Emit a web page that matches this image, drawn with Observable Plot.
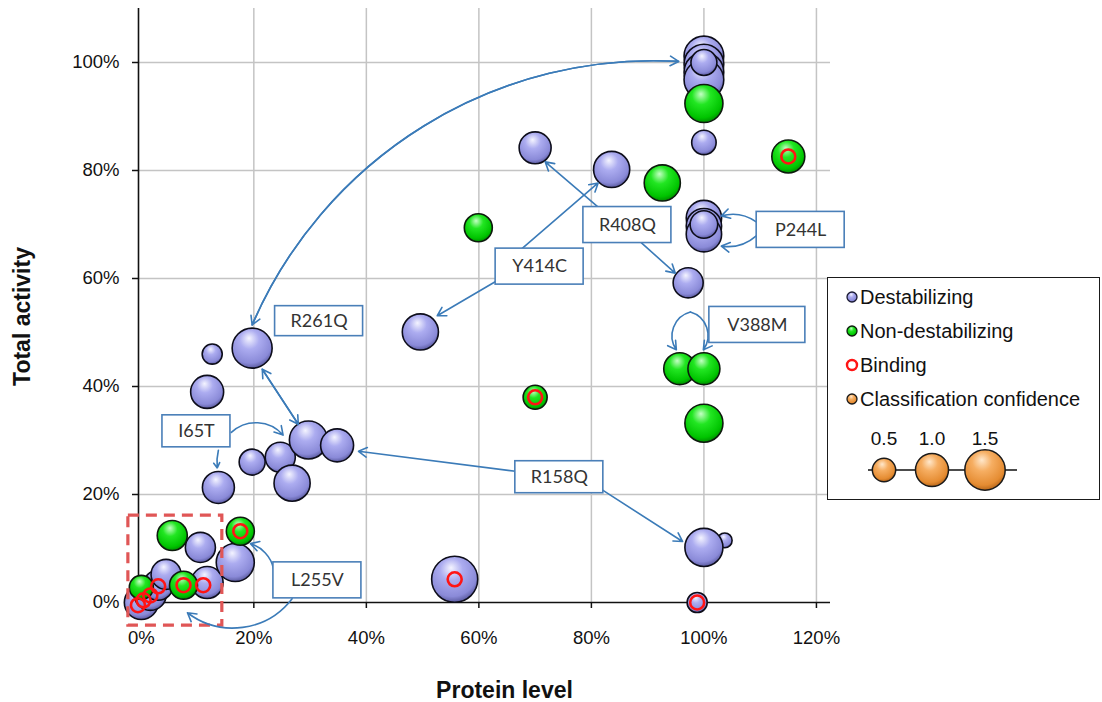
<!DOCTYPE html>
<html>
<head>
<meta charset="utf-8">
<script src="https://cdn.jsdelivr.net/npm/d3@7"></script>
<script src="https://cdn.jsdelivr.net/npm/@observablehq/plot@0.6"></script>
<style>
  html, body { margin: 0; padding: 0; background: #fff; }
  #chart { position: relative; width: 1102px; height: 702px; }
  #legend {
    position: absolute; left: 827px; top: 277px; width: 273px; height: 223px;
    border: 1.5px solid #1a1a1a; background: #fff; box-sizing: border-box;
  }
</style>
</head>
<body>
<!-- shaded "ball" fills shared by the plot and the legend -->
<svg width="0" height="0" style="position:absolute">
  <defs>
    <radialGradient id="ballPurple" cx="0.45" cy="0.35" r="0.7" fx="0.42" fy="0.25">
      <stop offset="0" stop-color="#f4f4ff"/>
      <stop offset="0.35" stop-color="#acacf0"/>
      <stop offset="0.78" stop-color="#8a8ad8"/>
      <stop offset="1" stop-color="#4a4a8c"/>
    </radialGradient>
    <radialGradient id="ballGreen" cx="0.45" cy="0.35" r="0.7" fx="0.42" fy="0.25">
      <stop offset="0" stop-color="#c4ffc4"/>
      <stop offset="0.35" stop-color="#22e622"/>
      <stop offset="0.78" stop-color="#00c400"/>
      <stop offset="1" stop-color="#007a00"/>
    </radialGradient>
    <radialGradient id="ballOrange" cx="0.45" cy="0.35" r="0.7" fx="0.42" fy="0.25">
      <stop offset="0" stop-color="#ffe8cc"/>
      <stop offset="0.35" stop-color="#f6ae62"/>
      <stop offset="0.78" stop-color="#e58c32"/>
      <stop offset="1" stop-color="#a85a12"/>
    </radialGradient>
  </defs>
</svg>
<div id="chart"><div id="legend"></div></div>
<script>
// Destabilizing variants
const destabProtein    = [1.00, 1.00, 1.00, 1.00, 1.00, 1.00, 0.70, 0.836, 1.00, 1.00, 1.00, 1.00, 0.972, 0.496, 0.197, 0.126, 0.117, 0.197, 0.247, 0.268, 0.297, 0.348, 0.137, 1.037, 1.00, 0.557, 0.988, 0.000, 0.016, 0.030, 0.044, 0.117, 0.105, 0.167];
const destabActivity   = [1.012, 0.997, 0.982, 0.968, 1.00, 0.852, 0.842, 0.802, 0.712, 0.697, 0.682, 0.700, 0.592, 0.501, 0.471, 0.460, 0.390, 0.260, 0.269, 0.221, 0.301, 0.291, 0.213, 0.115, 0.102, 0.043, 0.000, 0.000, 0.015, 0.032, 0.052, 0.037, 0.102, 0.074];
const destabConfidence = [1.45, 1.45, 1.45, 1.45, 0.62, 0.55, 0.94, 1.20, 1.15, 1.15, 1.15, 0.70, 0.83, 1.20, 1.47, 0.37, 1.00, 0.62, 0.83, 1.20, 1.33, 1.00, 0.94, 0.20, 1.33, 1.95, 0.37, 1.06, 0.94, 0.83, 0.83, 0.94, 0.83, 1.33];

// Non-destabilizing variants
const stableProtein    = [1.00, 0.926, 0.599, 1.15, 0.957, 1.00, 1.00, 0.70, 0.176, 0.055, 0.075, 0.000];
const stableActivity   = [0.924, 0.777, 0.694, 0.826, 0.433, 0.433, 0.332, 0.380, 0.132, 0.124, 0.032, 0.028];
const stableConfidence = [1.33, 1.20, 0.72, 1.00, 0.94, 0.94, 1.33, 0.53, 0.72, 0.83, 0.72, 0.53];

// Variants affecting binding (drawn as rings)
const bindingProtein  = [1.15, 0.70, 0.176, 0.075, 0.110, 0.557, 0.988, -0.006, 0.004, 0.016, 0.030];
const bindingActivity = [0.826, 0.380, 0.132, 0.032, 0.032, 0.043, 0.000, -0.005, 0.004, 0.013, 0.030];

// Axis ticks
const xTicks = [0, 0.2, 0.4, 0.6, 0.8, 1.0, 1.2];
const yTicks = [0, 0.2, 0.4, 0.6, 0.8, 1.0];

// Size legend values
const sizeLegend = [0.5, 1.0, 1.5];

// Callout labels and their arrows
const callouts = [
  {label: "R261Q", x: 0.316, y: 0.521, w: 88, h: 30},
  {label: "I65T",  x: 0.098, y: 0.317, w: 68, h: 32},
  {label: "R158Q", x: 0.743, y: 0.232, w: 88, h: 32},
  {label: "L255V", x: 0.313, y: 0.041, w: 88, h: 36},
  {label: "Y414C", x: 0.708, y: 0.622, w: 88, h: 36},
  {label: "R408Q", x: 0.864, y: 0.699, w: 88, h: 36},
  {label: "P244L", x: 1.172, y: 0.690, w: 88, h: 36},
  {label: "V388M", x: 1.095, y: 0.514, w: 96, h: 36}
];
const calloutArrows = [
  {x1: 0.197, y1: 0.514, x2: 0.955, y2: 1.002, bend: 35},
  {x1: 0.955, y1: 1.002, x2: 0.197, y2: 0.514, bend: -35},
  {x1: 0.215, y1: 0.432, x2: 0.279, y2: 0.330, bend: 0},
  {x1: 0.279, y1: 0.330, x2: 0.215, y2: 0.432, bend: 0},
  {x1: 0.160, y1: 0.315, x2: 0.252, y2: 0.310, bend: 46},
  {x1: 0.137, y1: 0.282, x2: 0.135, y2: 0.249, bend: -10},
  {x1: 0.665, y1: 0.243, x2: 0.386, y2: 0.280, bend: 0},
  {x1: 0.820, y1: 0.208, x2: 0.962, y2: 0.113, bend: 0},
  {x1: 0.235, y1: 0.063, x2: 0.194, y2: 0.109, bend: -30},
  {x1: 0.268, y1: 0.007, x2: 0.082, y2: -0.019, bend: 45},
  {x1: 0.674, y1: 0.653, x2: 0.812, y2: 0.777, bend: 0},
  {x1: 0.629, y1: 0.594, x2: 0.526, y2: 0.531, bend: 0},
  {x1: 0.811, y1: 0.733, x2: 0.718, y2: 0.816, bend: 0},
  {x1: 0.889, y1: 0.666, x2: 0.949, y2: 0.610, bend: 0},
  {x1: 1.093, y1: 0.705, x2: 1.031, y2: 0.716, bend: -25},
  {x1: 1.093, y1: 0.679, x2: 1.031, y2: 0.660, bend: 25},
  {x1: 0.976, y1: 0.538, x2: 0.951, y2: 0.468, bend: -55},
  {x1: 0.976, y1: 0.538, x2: 0.999, y2: 0.468, bend: 55}
];
// Dashed box around the low-expression cluster
const lowCluster = [{x1: -0.023, x2: 0.144, y1: -0.043, y2: 0.161}];

const destab = destabProtein.map((p, i) => ({protein: p, activity: destabActivity[i], confidence: destabConfidence[i]}));
const stable = stableProtein.map((p, i) => ({protein: p, activity: stableActivity[i], confidence: stableConfidence[i]}));
const binding = bindingProtein.map((p, i) => ({protein: p, activity: bindingActivity[i]}));

const W = 1102, H = 702;
const M = {left: 138, right: 272, top: 8, bottom: 100};
const xDomain = [-0.005, 1.225], yDomain = [0, 1.1];
const kx = (W - M.left - M.right) / (xDomain[1] - xDomain[0]);
const ky = (H - M.top - M.bottom) / (yDomain[1] - yDomain[0]);
const boxes = callouts.map(d => ({
  ...d,
  x1: d.x - d.w / 2 / kx, x2: d.x + d.w / 2 / kx,
  y1: d.y - d.h / 2 / ky, y2: d.y + d.h / 2 / ky
}));

const pct = d3.format(".0%");
const blue = "#3b7bb8";

const plot = Plot.plot({
  width: W, height: H,
  marginLeft: M.left, marginRight: M.right, marginTop: M.top, marginBottom: M.bottom,
  x: {domain: xDomain, label: null},
  y: {domain: yDomain, label: null},
  r: {type: "sqrt", domain: [0, 1.5], range: [0, 20.2]},
  style: {fontFamily: "'Liberation Sans', Arial, sans-serif", fontSize: "18px", color: "#111", background: "#fff", overflow: "visible"},
  marks: [
    Plot.gridX(xTicks.filter(d => d > 0), {stroke: "#c4c4c4", strokeOpacity: 1, strokeWidth: 1.5}),
    Plot.gridY(yTicks.filter(d => d > 0), {stroke: "#c4c4c4", strokeOpacity: 1, strokeWidth: 1.5}),
    Plot.axisX(xTicks, {tickFormat: pct, tickSize: 6, tickPadding: 22, strokeWidth: 1.5, label: null, fontSize: 18.5}),
    Plot.axisY(yTicks, {tickFormat: pct, tickSize: 6, tickPadding: 13, strokeWidth: 1.5, label: null, fontSize: 18.5}),
    Plot.ruleY([0], {stroke: "#111", strokeWidth: 1.6}),
    Plot.ruleX([xDomain[0]], {stroke: "#111", strokeWidth: 1.6}),
    Plot.dot(destab, {x: "protein", y: "activity", r: "confidence", fill: "url(#ballPurple)", stroke: "#0d0d1a", strokeWidth: 1.6, sort: null}),
    Plot.dot(stable, {x: "protein", y: "activity", r: "confidence", fill: "url(#ballGreen)", stroke: "#0d1a0d", strokeWidth: 1.6, sort: null}),
    Plot.dot(binding, {x: "protein", y: "activity", r: 7, fill: "none", stroke: "#ff1414", strokeWidth: 2.6}),
    Plot.rect(lowCluster, {x1: "x1", x2: "x2", y1: "y1", y2: "y2", fill: "none", stroke: "#e05656", strokeWidth: 3.2, strokeDasharray: "11,7"}),
    ...calloutArrows.map(a => Plot.arrow([a], {x1: "x1", y1: "y1", x2: "x2", y2: "y2", bend: a.bend, stroke: blue, strokeWidth: 1.6, headLength: 9})),
    Plot.rect(boxes, {x1: "x1", x2: "x2", y1: "y1", y2: "y2", fill: "#fff", stroke: "#4a7fb8", strokeWidth: 1.6}),
    Plot.text(boxes, {x: "x", y: "y", text: "label", fontFamily: "Lato, 'Open Sans', sans-serif", fontSize: 18, fill: "#333"}),
    Plot.text(["Protein level"], {frameAnchor: "bottom", dx: 20, dy: 95, fontWeight: "bold", fontSize: 23, fill: "#111"}),
    Plot.text(["Total activity"], {frameAnchor: "left", textAnchor: "middle", dx: -116, dy: 11, rotate: -90, fontWeight: "bold", fontSize: 23, fill: "#111"})
  ]
});
const chart = document.getElementById("chart");
chart.insertBefore(plot, chart.firstChild);

// Legend: category swatches plus the bubble-size key, sized with the plot's r scale
const rScale = plot.scale("r");
const leg = d3.select("#legend").append("svg").attr("width", 270).attr("height", 220)
  .style("font-family", "'Liberation Sans', Arial, sans-serif");
const rows = [
  {label: "Destabilizing", fill: "url(#ballPurple)", stroke: "#1a1a33", w: 1.3},
  {label: "Non-destabilizing", fill: "url(#ballGreen)", stroke: "#0d1a0d", w: 1.3},
  {label: "Binding", fill: "#fff", stroke: "#ff1414", w: 2.4},
  {label: "Classification confidence", fill: "url(#ballOrange)", stroke: "#1a1a1a", w: 1.3}
];
const rowY = [19, 53, 87, 121];
rows.forEach((r, i) => {
  leg.append("circle").attr("cx", 24).attr("cy", rowY[i]).attr("r", 5)
    .attr("fill", r.fill).attr("stroke", r.stroke).attr("stroke-width", r.w);
  leg.append("text").attr("x", 32).attr("y", rowY[i]).attr("dy", "0.35em")
    .attr("font-size", 20).attr("fill", "#111").text(r.label);
});
const sizeX = [56, 104, 157];
leg.append("line").attr("x1", 40).attr("x2", 189).attr("y1", 192).attr("y2", 192)
  .attr("stroke", "#111").attr("stroke-width", 1.5);
sizeLegend.forEach((v, i) => {
  leg.append("circle").attr("cx", sizeX[i]).attr("cy", 192).attr("r", rScale.apply(v))
    .attr("fill", "url(#ballOrange)").attr("stroke", "#1a1a1a").attr("stroke-width", 1.5);
  leg.append("text").attr("x", sizeX[i]).attr("y", 160).attr("dy", "0.35em")
    .attr("text-anchor", "middle").attr("font-size", 19).attr("fill", "#111").text(d3.format(".1f")(v));
});
</script>
</body>
</html>
